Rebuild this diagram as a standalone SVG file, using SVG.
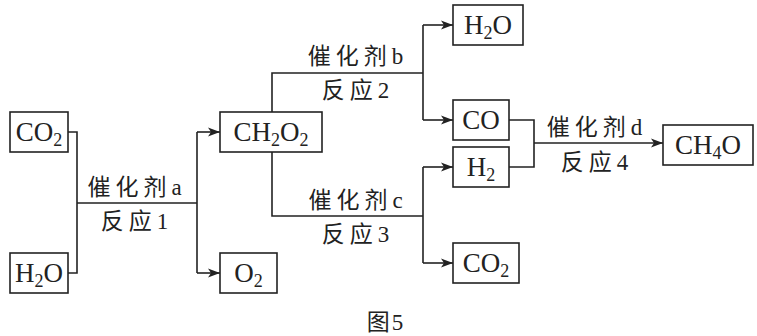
<svg xmlns="http://www.w3.org/2000/svg" width="757" height="336" viewBox="0 0 757 336">
<style>
.box{fill:#fff;stroke:#222;stroke-width:1.6}
.f{font-family:"Liberation Serif","Times New Roman",serif;font-size:27px;fill:#222;text-anchor:middle}
.s{font-size:18px}
.lbl{font-family:"Liberation Serif","Noto Sans CJK SC",serif;font-size:23px;fill:#222;text-anchor:middle;letter-spacing:5px}
.ln{fill:none;stroke:#222;stroke-width:1.6}
</style>
<defs>
<marker id="ah" markerUnits="userSpaceOnUse" markerWidth="12" markerHeight="10" refX="12" refY="5" orient="auto">
<path d="M0,0.5 L12,5 L0,9.5 L3,5 Z" fill="#222"/>
</marker>
</defs>
<rect width="757" height="336" fill="#fff"/>
<g id="connectors">
<path class="ln" d="M68,132 H77 V273 H68 M77,203 H197 M197,132 V273"/>
<path class="ln" d="M197,132 H220" marker-end="url(#ah)"/>
<path class="ln" d="M197,273 H220" marker-end="url(#ah)"/>
<path class="ln" d="M272,112 V73 H423 M423,25 V120"/>
<path class="ln" d="M423,25 H453" marker-end="url(#ah)"/>
<path class="ln" d="M423,120 H453" marker-end="url(#ah)"/>
<path class="ln" d="M272,152 V216 H423 M423,167 V263"/>
<path class="ln" d="M423,167 H453" marker-end="url(#ah)"/>
<path class="ln" d="M423,263 H453" marker-end="url(#ah)"/>
<path class="ln" d="M509,120 H534 V167 H509"/>
<path class="ln" d="M534,143 H663" marker-end="url(#ah)"/>
</g>
<g id="labels">
<text class="lbl" x="137" y="195">催化剂a</text>
<text class="lbl" x="137" y="229">反应1</text>
<text class="lbl" x="358" y="64">催化剂b</text>
<text class="lbl" x="358" y="98">反应2</text>
<text class="lbl" x="358" y="208">催化剂c</text>
<text class="lbl" x="358" y="242">反应3</text>
<text class="lbl" x="597" y="135">催化剂d</text>
<text class="lbl" x="597" y="170">反应4</text>
</g>
<g id="n_co2_in"><rect class="box" x="10" y="112" width="58" height="40"/><text class="f" x="39" y="141">CO<tspan class="s" dy="5">2</tspan></text></g>
<g id="n_h2o_in"><rect class="box" x="10" y="253" width="58" height="40"/><text class="f" x="39" y="282">H<tspan class="s" dy="5">2</tspan><tspan dy="-5">O</tspan></text></g>
<g id="n_ch2o2"><rect class="box" x="220" y="112" width="102" height="40"/><text class="f" x="271" y="141">CH<tspan class="s" dy="5">2</tspan><tspan dy="-5">O</tspan><tspan class="s" dy="5">2</tspan></text></g>
<g id="n_o2"><rect class="box" x="220" y="253" width="57" height="40"/><text class="f" x="248.5" y="282">O<tspan class="s" dy="5">2</tspan></text></g>
<g id="n_h2o_out"><rect class="box" x="453" y="5" width="70" height="40"/><text class="f" x="488" y="34">H<tspan class="s" dy="5">2</tspan><tspan dy="-5">O</tspan></text></g>
<g id="n_co"><rect class="box" x="453" y="100" width="56" height="40"/><text class="f" x="481" y="129">CO</text></g>
<g id="n_h2"><rect class="box" x="453" y="147" width="56" height="40"/><text class="f" x="481" y="176">H<tspan class="s" dy="5">2</tspan></text></g>
<g id="n_co2_out"><rect class="box" x="453" y="243" width="66" height="40"/><text class="f" x="486" y="272">CO<tspan class="s" dy="5">2</tspan></text></g>
<g id="n_ch4o"><rect class="box" x="663" y="125" width="90" height="40"/><text class="f" x="708" y="154">CH<tspan class="s" dy="5">4</tspan><tspan dy="-5">O</tspan></text></g>
<text class="lbl" x="386" y="330" style="letter-spacing:2px">图5</text>
</svg>
